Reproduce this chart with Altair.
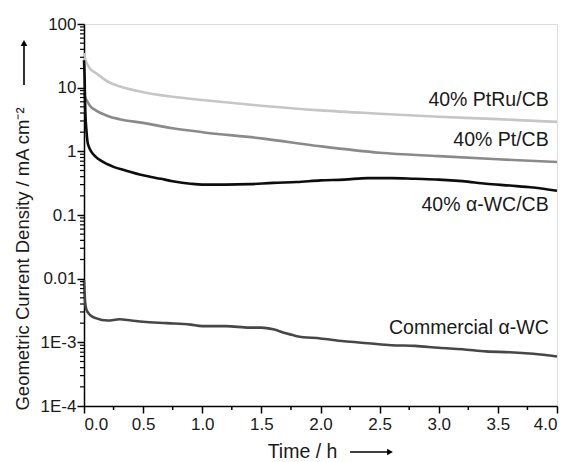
import altair as alt
import pandas as pd

# ---------------- data ----------------
series_names = ["40% PtRu/CB", "40% Pt/CB", "40% α-WC/CB", "Commercial α-WC"]

ptru_t = [0, 0.01, 0.03, 0.05, 0.1, 0.2, 0.3, 0.5, 0.75, 1.0, 1.5, 2.0, 2.5, 3.0, 3.5, 4.0]
ptru_v = [35, 28, 23, 20, 17, 12.5, 10.5, 8.5, 7.2, 6.4, 5.2, 4.4, 3.9, 3.5, 3.2, 2.9]

pt_t = [0, 0.01, 0.03, 0.05, 0.1, 0.2, 0.3, 0.5, 0.75, 1.0, 1.5, 2.0, 2.5, 3.0, 3.5, 4.0]
pt_v = [8, 7, 6, 5.2, 4.4, 3.6, 3.2, 2.8, 2.3, 2.0, 1.6, 1.2, 0.95, 0.84, 0.75, 0.68]

wc_t = [0, 0.005, 0.01, 0.02, 0.03, 0.04, 0.06, 0.1, 0.15, 0.25, 0.35, 0.5, 0.65, 0.75, 0.9,
        1.0, 1.2, 1.4, 1.6, 1.8, 2.0, 2.2, 2.4, 2.6, 2.8, 3.0, 3.2, 3.4, 3.6, 3.8, 4.0]
wc_v = [27, 15, 5, 2.2, 1.4, 1.2, 1.0, 0.82, 0.7, 0.57, 0.5, 0.42, 0.37, 0.34, 0.31,
        0.30, 0.30, 0.305, 0.32, 0.33, 0.35, 0.36, 0.38, 0.38, 0.37, 0.36, 0.34, 0.31, 0.29, 0.27, 0.24]

com_t = [0, 0.005, 0.01, 0.02, 0.05, 0.1, 0.2, 0.3, 0.4, 0.5, 0.7, 0.9, 1.0, 1.2, 1.4, 1.5,
         1.6, 1.7, 1.8, 2.0, 2.2, 2.4, 2.6, 2.8, 3.0, 3.2, 3.4, 3.6, 3.8, 4.0]
com_v = [0.0095, 0.006, 0.0042, 0.0033, 0.0027, 0.0024, 0.0022, 0.0023, 0.0022, 0.0021, 0.002,
         0.0019, 0.0018, 0.0018, 0.0017, 0.0017, 0.0016, 0.0014, 0.00125, 0.00115, 0.00104,
         0.00097, 0.0009, 0.00088, 0.00082, 0.00078, 0.00072, 0.0007, 0.00066, 0.0006]

series_colors = ["#c6c6c6", "#8a8a8a", "#0d0d0d", "#474747"]

label_x = [3.93, 3.93, 3.93, 3.93]
label_y = [6.4, 1.51, 0.144, 0.00169]

x_ticks = [0, 0.5, 1.0, 1.5, 2.0, 2.5, 3.0, 3.5, 4.0]
x_minor = [0.25, 0.75, 1.25, 1.75, 2.25, 2.75, 3.25, 3.75]
y_ticks = [1e-4, 1e-3, 0.01, 0.1, 1, 10, 100]
y_tick_labels = ["1E-4", "1E-3", "0.01", "0.1", "1", "10", "100"]
y_minor = [m * 10 ** e for e in range(-4, 2) for m in range(2, 10)]

x_title = "Time / h"
y_title = "Geometric Current Density / mA cm⁻²"

FONT = "Liberation Sans"
W, H = 473, 382

rows = []
for name, ts, vs in zip(series_names, [ptru_t, pt_t, wc_t, com_t], [ptru_v, pt_v, wc_v, com_v]):
    for t, v in zip(ts, vs):
        rows.append({"series": name, "t": t, "j": v})
df = pd.DataFrame(rows)

xscale = alt.Scale(domain=[0, 4], nice=False, zero=False)
yscale = alt.Scale(type="log", domain=[1e-4, 100], nice=False)

label_list = "[" + ",".join(f"'{s}'" for s in y_tick_labels) + "]"
y_label_expr = f"{label_list}[round(log(datum.value)/LN10)+4]"

xaxis = alt.Axis(values=x_ticks, format=".1f", title=None, grid=False,
                 tickSize=7, tickWidth=1.5, tickColor="black",
                 domainColor="black", domainWidth=1.5,
                 labelFont=FONT, labelFontSize=17, labelColor="#1a1a1a",
                 labelPadding=3)
yaxis = alt.Axis(values=y_ticks, labelExpr=y_label_expr, title=None, grid=False,
                 tickSize=7, tickWidth=1.5, tickColor="black",
                 domainColor="black", domainWidth=1.5,
                 labelFont=FONT, labelFontSize=17, labelColor="#1a1a1a",
                 labelPadding=1)

lines = alt.Chart(df).mark_line(strokeWidth=2.6, interpolate="monotone").encode(
    x=alt.X("t:Q", scale=xscale, axis=xaxis),
    y=alt.Y("j:Q", scale=yscale, axis=yaxis),
    color=alt.Color("series:N", scale=alt.Scale(domain=series_names, range=series_colors), legend=None),
    order=alt.Order("t:Q"),
)

ymin_df = pd.DataFrame({"v": y_minor})
ymin = alt.Chart(ymin_df).mark_rule(color="black", strokeWidth=1.2).encode(
    y=alt.Y("v:Q", scale=yscale, axis=yaxis),
    x=alt.value(-4), x2=alt.value(0),
)
xmin_df = pd.DataFrame({"v": x_minor})
xmin = alt.Chart(xmin_df).mark_rule(color="black", strokeWidth=1.5).encode(
    x=alt.X("v:Q", scale=xscale, axis=xaxis),
    y=alt.value(H), y2=alt.value(H + 4),
)

lab_df = pd.DataFrame({"name": series_names, "x": label_x, "y": label_y})
labels = alt.Chart(lab_df).mark_text(align="right", baseline="middle", font=FONT,
                                     fontSize=19.5, color="#1a1a1a").encode(
    x=alt.X("x:Q", scale=xscale, axis=xaxis),
    y=alt.Y("y:Q", scale=yscale, axis=yaxis),
    text="name:N",
)

ytitle = alt.Chart(pd.DataFrame({"s": [y_title]})).mark_text(
    angle=270, align="center", baseline="middle", font=FONT, fontSize=18.5, color="#1a1a1a"
).encode(x=alt.value(-61), y=alt.value(235), text="s:N")

xtitle = alt.Chart(pd.DataFrame({"s": [x_title]})).mark_text(
    align="center", baseline="alphabetic", font=FONT, fontSize=19.5, color="#1a1a1a"
).encode(x=alt.value(218.5), y=alt.value(434), text="s:N")

arrow_df = pd.DataFrame({"a": [1]})
y_arrow_line = alt.Chart(arrow_df).mark_rule(color="black", strokeWidth=1.6).encode(
    x=alt.value(-60), y=alt.value(20), y2=alt.value(61))
y_arrow_head = alt.Chart(arrow_df).mark_point(shape="triangle-up", filled=True, color="black",
                                              size=45, opacity=1).encode(
    x=alt.value(-60), y=alt.value(19))
x_arrow_line = alt.Chart(arrow_df).mark_rule(color="black", strokeWidth=1.6).encode(
    x=alt.value(266), x2=alt.value(305), y=alt.value(428))
x_arrow_head = alt.Chart(arrow_df).mark_point(shape="triangle-right", filled=True, color="black",
                                              size=45, opacity=1).encode(
    x=alt.value(306), y=alt.value(428))

chart = alt.layer(
    lines, ymin, xmin, labels, ytitle, xtitle,
    y_arrow_line, y_arrow_head, x_arrow_line, x_arrow_head,
).properties(
    width=W, height=H,
    autosize=alt.AutoSizeParams(type="none"),
    padding={"left": 76, "top": 16, "right": 5, "bottom": 56},
).configure_view(stroke=None).configure(background="white")

chart.save("out.html", embed_options={"renderer": "svg", "actions": False})
